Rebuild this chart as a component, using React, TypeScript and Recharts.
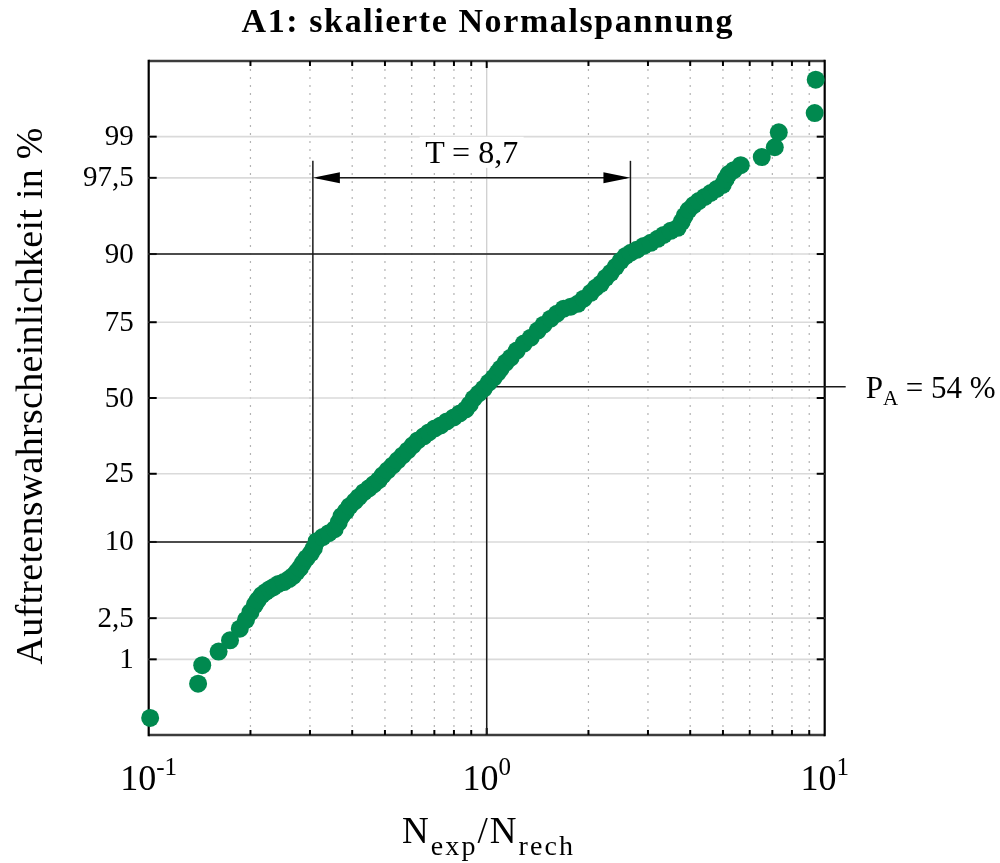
import React from 'react';
import { ScatterChart, Scatter, XAxis, YAxis, ReferenceLine, ReferenceArea } from 'recharts';

// N_exp / N_rech of each test, ascending
const ratioValues = [
  0.101, 0.140, 0.144, 0.161, 0.174, 0.186, 0.194, 0.200, 0.206, 0.210,
  0.216, 0.222, 0.228, 0.234, 0.242, 0.251, 0.260, 0.267, 0.274, 0.280,
  0.286, 0.293, 0.302, 0.308, 0.314, 0.327, 0.341, 0.355, 0.365, 0.372,
  0.383, 0.393, 0.407, 0.418, 0.433, 0.448, 0.463, 0.479, 0.492, 0.509,
  0.527, 0.545, 0.564, 0.584, 0.604, 0.625, 0.651, 0.674, 0.702, 0.731,
  0.762, 0.799, 0.832, 0.867, 0.891, 0.915, 0.947, 0.980, 1.014, 1.049,
  1.078, 1.100, 1.138, 1.178, 1.227, 1.287, 1.350, 1.415, 1.474, 1.546,
  1.612, 1.690, 1.772, 1.859, 1.936, 2.031, 2.101, 2.174, 2.249, 2.327,
  2.408, 2.491, 2.578, 2.667, 2.778, 2.914, 3.056, 3.205, 3.339, 3.502,
  3.673, 3.774, 3.852, 3.958, 4.095, 4.237, 4.416, 4.599, 4.791, 4.991,
  5.094, 5.200, 5.380, 5.643, 6.512, 7.117, 7.313, 9.341, 9.406,
];

// Auftretenswahrscheinlichkeit of each test in %
const probabilityValues = [
  0.22, 0.55, 0.87, 1.20, 1.55, 2.00, 2.41, 2.83, 3.27, 3.59,
  3.97, 4.21, 4.44, 4.62, 4.89, 5.07, 5.35, 5.64, 6.07, 6.49,
  7.09, 7.70, 8.37, 9.07, 10.12, 10.78, 11.44, 12.15, 13.43, 14.65,
  15.66, 16.78, 17.90, 18.86, 20.08, 21.08, 22.12, 23.21, 24.56, 26.00,
  27.43, 28.94, 30.47, 32.04, 33.67, 35.29, 36.64, 37.95, 39.33, 40.37,
  41.72, 43.14, 44.52, 45.94, 47.70, 49.82, 51.60, 53.36, 55.47, 57.23,
  58.96, 60.33, 62.38, 64.04, 66.34, 68.59, 70.44, 72.57, 74.29, 76.00,
  77.34, 78.68, 79.18, 79.92, 81.16, 82.55, 83.68, 84.54, 85.77, 86.75,
  87.85, 88.90, 89.71, 90.20, 90.64, 91.21, 91.64, 92.17, 92.67, 93.16,
  93.51, 94.15, 94.75, 95.29, 95.71, 96.02, 96.33, 96.60, 96.86, 97.11,
  97.43, 97.69, 97.87, 98.09, 98.40, 98.72, 99.10, 99.44, 99.77,
];

const probabilityTicks = [1, 2.5, 10, 25, 50, 75, 90, 97.5, 99];
const probabilityTickLabels = ['1', '2,5', '10', '25', '50', '75', '90', '97,5', '99'];
const decadeTicks = [0.1, 1, 10];
const decadeExponents = ['-1', '0', '1'];
const minorTicks = [0.2, 0.3, 0.4, 0.5, 0.6, 0.7, 0.8, 0.9, 2, 3, 4, 5, 6, 7, 8, 9];

// Streuspanne between 10 % and 90 %
const ratioAt10 = 0.306;
const scatterT = 8.7;
const ratioAt90 = ratioAt10 * scatterT;
const survivalPA = 54;

const GREEN = '#00894f';
const SERIF = '"Liberation Serif", "Times New Roman", serif';

// inverse of the standard normal distribution (Acklam)
function probit(p: number): number {
  const a = [-3.969683028665376e1, 2.209460984245205e2, -2.759285104469687e2, 1.38357751867269e2, -3.066479806614716e1, 2.506628277459239];
  const b = [-5.447609879822406e1, 1.615858368580409e2, -1.556989798598866e2, 6.680131188771972e1, -1.328068155288572e1];
  const c = [-7.784894002430293e-3, -3.223964580411365e-1, -2.400758277161838, -2.549732539343734, 4.374664141464968, 2.938163982698783];
  const d = [7.784695709041462e-3, 3.224671290700398e-1, 2.445134137142996, 3.754408661907416];
  const pLow = 0.02425;
  if (p < pLow) {
    const q = Math.sqrt(-2 * Math.log(p));
    return (((((c[0] * q + c[1]) * q + c[2]) * q + c[3]) * q + c[4]) * q + c[5]) /
      ((((d[0] * q + d[1]) * q + d[2]) * q + d[3]) * q + 1);
  }
  if (p <= 1 - pLow) {
    const q = p - 0.5;
    const r = q * q;
    return ((((((a[0] * r + a[1]) * r + a[2]) * r + a[3]) * r + a[4]) * r + a[5]) * q) /
      (((((b[0] * r + b[1]) * r + b[2]) * r + b[3]) * r + b[4]) * r + 1);
  }
  const q = Math.sqrt(-2 * Math.log(1 - p));
  return -(((((c[0] * q + c[1]) * q + c[2]) * q + c[3]) * q + c[4]) * q + c[5]) /
    ((((d[0] * q + d[1]) * q + d[2]) * q + d[3]) * q + 1);
}

const zOf = (percent: number) => probit(percent / 100);

const points = ratioValues.map((r, i) => ({ ratio: r, z: zOf(probabilityValues[i]) }));

const Z_MIN = -3;
const Z_MAX = 3;

const LINE = '#1a1a1a';

const MinorGridShape = (props: any) => {
  const { x1, y1, y2 } = props;
  const top = Math.min(y1, y2);
  const bottom = Math.max(y1, y2);
  return (
    <g>
      <line x1={x1} y1={top} x2={x1} y2={bottom} stroke="#b3b3b3" strokeWidth={1.2} strokeDasharray="2 6" />
      <line x1={x1} y1={top} x2={x1} y2={top + 5} stroke="#000" strokeWidth={2} />
      <line x1={x1} y1={bottom} x2={x1} y2={bottom - 5} stroke="#000" strokeWidth={2} />
    </g>
  );
};

const MajorGridShape = (props: any) => {
  const { x1, y1, y2 } = props;
  const top = Math.min(y1, y2);
  const bottom = Math.max(y1, y2);
  return (
    <g>
      <line x1={x1} y1={top} x2={x1} y2={bottom} stroke="#cfcfcf" strokeWidth={1.3} />
      <line x1={x1} y1={top} x2={x1} y2={top + 7} stroke="#000" strokeWidth={2} />
      <line x1={x1} y1={bottom} x2={x1} y2={bottom - 7} stroke="#000" strokeWidth={2} />
    </g>
  );
};

const ProbabilityGridShape = (props: any) => {
  const { x1, x2, y1 } = props;
  const left = Math.min(x1, x2);
  const right = Math.max(x1, x2);
  return (
    <g>
      <line x1={left} y1={y1} x2={right} y2={y1} stroke="#dadada" strokeWidth={1.6} />
      <line x1={left} y1={y1} x2={left + 8} y2={y1} stroke="#000" strokeWidth={2} />
      <line x1={right} y1={y1} x2={right - 8} y2={y1} stroke="#000" strokeWidth={2} />
    </g>
  );
};

const FrameShape = (props: any) => {
  const { x, y, width, height } = props;
  return (
    <g>
      <line x1={x} y1={y} x2={x + width} y2={y} stroke="#3c3c3c" strokeWidth={2.4} />
      <line x1={x} y1={y + height} x2={x + width} y2={y + height} stroke="#3c3c3c" strokeWidth={2.4} />
      <line x1={x} y1={y - 1.2} x2={x} y2={y + height + 1.2} stroke="#000" strokeWidth={2.2} />
      <line x1={x + width} y1={y - 1.2} x2={x + width} y2={y + height + 1.2} stroke="#000" strokeWidth={2.2} />
    </g>
  );
};

const GuideShape = (props: any) => {
  const { x1, y1, x2, y2 } = props;
  return <line x1={x1} y1={y1} x2={x2} y2={y2} stroke={LINE} strokeWidth={1.5} />;
};

// vertical guides reach a little above the arrow
const TallGuideShape = (props: any) => {
  const { x1, y1, y2 } = props;
  const top = Math.min(y1, y2) - 17;
  const bottom = Math.max(y1, y2);
  return <line x1={x1} y1={top} x2={x1} y2={bottom} stroke={LINE} strokeWidth={1.5} />;
};

const ArrowShape = (props: any) => {
  const { x1, x2, y1 } = props;
  const left = Math.min(x1, x2);
  const right = Math.max(x1, x2);
  const y = y1;
  const head = 27;
  const half = 5.5;
  const mid = (left + right) / 2;
  return (
    <g>
      <line x1={left + 4} y1={y} x2={right - 4} y2={y} stroke={LINE} strokeWidth={1.5} />
      <polygon points={`${left},${y} ${left + head},${y - half} ${left + head},${y + half}`} fill="#000" />
      <polygon points={`${right},${y} ${right - head},${y - half} ${right - head},${y + half}`} fill="#000" />
      <rect x={mid - 52} y={y - 41} width={104} height={31} fill="#fff" />
      <text x={mid} y={y - 15} textAnchor="middle" fontFamily={SERIF} fontSize={32} fill="#000">
        T = 8,7
      </text>
    </g>
  );
};

const PAShape = (props: any) => {
  const { x1, x2, y1 } = props;
  const left = Math.min(x1, x2);
  const right = Math.max(x1, x2);
  return (
    <g>
      <line x1={left} y1={y1} x2={right + 21} y2={y1} stroke={LINE} strokeWidth={1.5} />
      <text x={right + 41} y={y1 + 11} fontFamily={SERIF} fontSize={31} fill="#000">
        P
        <tspan dy={7} fontSize={21}>A</tspan>
        <tspan dy={-7}>{` = ${survivalPA} %`}</tspan>
      </text>
    </g>
  );
};

const Dot = (props: any) => <circle cx={props.cx} cy={props.cy} r={9} fill={GREEN} />;

const ProbabilityTick = (props: any) => {
  const { x, y, index } = props;
  return (
    <text x={x - 15} y={y + 8.5} textAnchor="end" fontFamily={SERIF} fontSize={29} fill="#000">
      {probabilityTickLabels[index]}
    </text>
  );
};

const DecadeTick = (props: any) => {
  const { x, y, index } = props;
  return (
    <text x={x} y={y + 55} textAnchor="middle" fontFamily={SERIF} fontSize={36} fill="#000">
      10
      <tspan dy={-15} fontSize={25}>{decadeExponents[index]}</tspan>
    </text>
  );
};

export default function App() {
  return (
    <div style={{ position: 'fixed', left: 0, top: 0, width: 1000, height: 863 }}>
      <ScatterChart
        width={1000}
        height={863}
        margin={{ top: 61, right: 175.3, bottom: 0, left: 0 }}
      >
        <XAxis
          dataKey="ratio"
          type="number"
          scale="log"
          domain={[0.1, 10]}
          ticks={decadeTicks}
          interval={0}
          tick={<DecadeTick />}
          tickLine={false}
          axisLine={false}
          tickSize={0}
          tickMargin={0}
          height={128}
        />
        <YAxis
          dataKey="z"
          type="number"
          domain={[Z_MIN, Z_MAX]}
          ticks={probabilityTicks.map(zOf)}
          interval={0}
          tick={<ProbabilityTick />}
          tickLine={false}
          axisLine={false}
          tickSize={0}
          tickMargin={0}
          width={148.7}
        />

        {minorTicks.map((v) => (
          <ReferenceLine key={`m${v}`} x={v} shape={<MinorGridShape />} />
        ))}
        <ReferenceLine x={1} shape={<MajorGridShape />} />
        {probabilityTicks.map((p) => (
          <ReferenceLine key={`p${p}`} y={zOf(p)} shape={<ProbabilityGridShape />} />
        ))}
        <ReferenceArea x1={0.1} x2={10} y1={Z_MIN} y2={Z_MAX} shape={<FrameShape />} />

        <ReferenceLine segment={[{ x: 0.1, y: zOf(10) }, { x: ratioAt10, y: zOf(10) }]} shape={<GuideShape />} />
        <ReferenceLine segment={[{ x: 0.1, y: zOf(90) }, { x: ratioAt90, y: zOf(90) }]} shape={<GuideShape />} />
        <ReferenceLine segment={[{ x: ratioAt10, y: zOf(10) }, { x: ratioAt10, y: zOf(97.5) }]} shape={<TallGuideShape />} />
        <ReferenceLine segment={[{ x: ratioAt90, y: zOf(90) }, { x: ratioAt90, y: zOf(97.5) }]} shape={<TallGuideShape />} />
        <ReferenceLine segment={[{ x: ratioAt10, y: zOf(97.5) }, { x: ratioAt90, y: zOf(97.5) }]} shape={<ArrowShape />} />
        <ReferenceLine segment={[{ x: 1, y: Z_MIN }, { x: 1, y: zOf(survivalPA) }]} shape={<GuideShape />} />
        <ReferenceLine segment={[{ x: 1, y: zOf(survivalPA) }, { x: 10, y: zOf(survivalPA) }]} shape={<PAShape />} />

        <Scatter data={points} isAnimationActive={false} shape={<Dot />} />

        <text x={487} y={32} textAnchor="middle" fontFamily={SERIF} fontSize={34} fontWeight="bold" fill="#000" textLength={491} lengthAdjust="spacing">
          A1: skalierte Normalspannung
        </text>
        <text
          x={42}
          y={396}
          transform="rotate(-90, 42, 396)"
          textAnchor="middle"
          fontFamily={SERIF}
          fontSize={38}
          fill="#000"
          textLength={537}
          lengthAdjust="spacing"
        >
          Auftretenswahrscheinlichkeit in %
        </text>
        <text x={487.5} y={843} textAnchor="middle" fontFamily={SERIF} fontSize={37} fill="#000" textLength={171} lengthAdjust="spacing">
          N
          <tspan dy={12} fontSize={28}>exp</tspan>
          <tspan dy={-12}>/N</tspan>
          <tspan dy={12} fontSize={28}>rech</tspan>
        </text>
      </ScatterChart>
    </div>
  );
}
